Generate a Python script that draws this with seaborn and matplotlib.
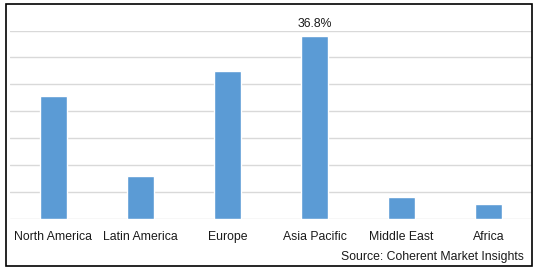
import matplotlib
matplotlib.use("Agg")
import matplotlib.pyplot as plt
import seaborn as sns
import numpy as np
import pandas as pd
from matplotlib.patches import Rectangle

categories = ["North America", "Latin America", "Europe", "Asia Pacific", "Middle East", "Africa"]
values = [24.7, 8.6, 29.7, 36.8, 4.3, 2.9]
label_text = "36.8%"
label_index = 3
source_text = "Source: Coherent Market Insights"

sns.set_theme(style="white")
plt.rcParams['font.family'] = ['Liberation Sans', 'DejaVu Sans']

df = pd.DataFrame({"region": categories, "share": values})

fig = plt.figure(figsize=(5.38, 2.72), dpi=100)
W, H = 538, 272
ax = fig.add_axes([10 / W, (H - 218.5) / H, 522 / W, 188 / H])

sns.barplot(data=df, x="region", y="share", color="#5b9bd5", width=0.32,
            saturation=1, ax=ax, zorder=3)

ymax = 37.9
ax.set_ylim(0, ymax)
ax.set_xlim(-0.5, len(categories) - 0.5)
ax.set_yticks(np.linspace(0, ymax, 8))
ax.yaxis.grid(True, color="#d9d9d9", linewidth=1.0, zorder=0)
ax.set_axisbelow(True)
ax.tick_params(axis="y", left=False, labelleft=False)
ax.tick_params(axis="x", bottom=False, length=0, labelsize=8.8, labelcolor="#1a1a1a", pad=9)
ax.set_xlabel("")
ax.set_ylabel("")
for s in ax.spines.values():
    s.set_visible(False)

ax.text(label_index, values[label_index] + 1.2, label_text, ha="center", va="bottom",
        fontsize=8.8, color="#1a1a1a")

fig.text(524 / W, 1 - 257 / H, source_text, ha="right", va="center",
         fontsize=8.8, color="#1a1a1a")

fig.patches.append(Rectangle((6 / W, 1 - 266 / H), 526 / W, 262 / H,
                             transform=fig.transFigure, fill=False,
                             edgecolor="black", linewidth=1.2))

fig.savefig("out.png", dpi=100)
